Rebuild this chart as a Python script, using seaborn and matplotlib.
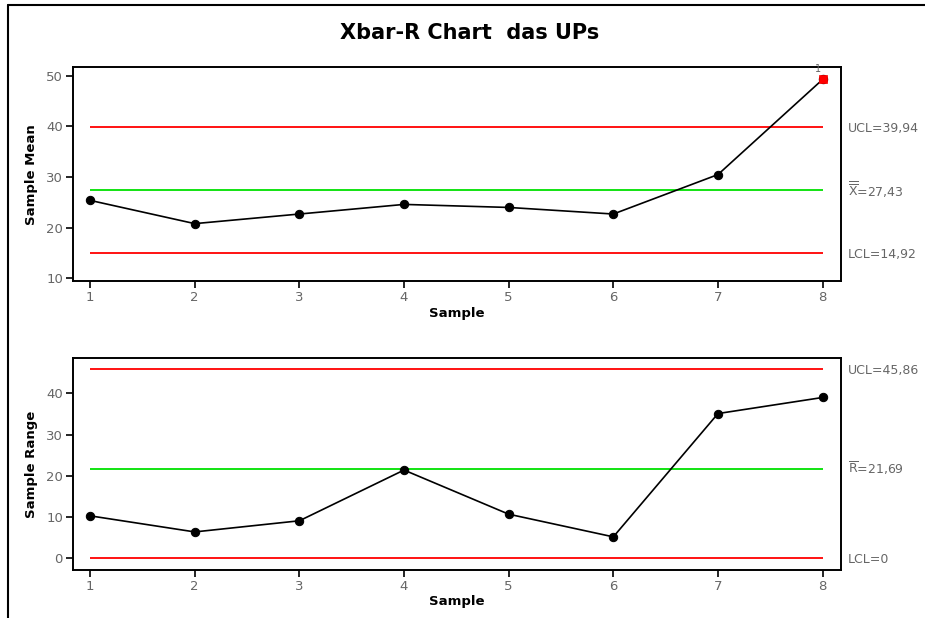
import numpy as np
import pandas as pd
import seaborn as sns
import matplotlib
matplotlib.use("Agg")
from matplotlib import pyplot as plt
from matplotlib.lines import Line2D

# data
samples = [1, 2, 3, 4, 5, 6, 7, 8]
sample_mean = [25.4, 20.8, 22.7, 24.6, 24.0, 22.7, 30.5, 49.3]
sample_range = [10.3, 6.4, 9.1, 21.4, 10.7, 5.2, 35.1, 39.0]
xbar_limits = {"UCL": 39.94, "CL": 27.43, "LCL": 14.92}
r_limits = {"UCL": 45.86, "CL": 21.69, "LCL": 0.0}
xbar_labels = ["UCL=39,94", r"$\overline{\overline{\mathrm{X}}}$=27,43", "LCL=14,92"]
r_labels = ["UCL=45,86", r"$\overline{\mathrm{R}}$=21,69", "LCL=0"]
out_of_control = [8]

sns.set_theme(style="ticks")
plt.rcParams["font.family"] = ["DejaVu Sans"]
plt.rcParams["text.color"] = "black"
plt.rcParams["axes.labelcolor"] = "black"

GREY = "#666666"

fig = plt.figure(figsize=(9.25, 6.18), dpi=100)
ax1 = fig.add_axes([0.0786, 0.5448, 0.8303, 0.3463])
ax2 = fig.add_axes([0.0786, 0.0777, 0.8303, 0.3430])

# frame around the figure (top and left edges only visible)
fig.add_artist(Line2D([0.0086, 0.0086], [0.0, 0.992], transform=fig.transFigure, color="black", lw=1.5))
fig.add_artist(Line2D([0.0086, 1.0], [0.992, 0.992], transform=fig.transFigure, color="black", lw=1.5))

fig.text(0.508, 0.946, "Xbar-R Chart  das UPs", ha="center", va="center",
         fontsize=15, fontweight="bold", color="black")


def control_panel(ax, values, limits, labels, ylabel):
    df = pd.DataFrame({"Sample": samples, "Value": values})
    for key, col in [("UCL", "#ff0000"), ("CL", "#00e000"), ("LCL", "#ff0000")]:
        ax.hlines(limits[key], samples[0], samples[-1], color=col, lw=1.3, zorder=1)
    sns.lineplot(data=df, x="Sample", y="Value", ax=ax, color="black", lw=1.2,
                 marker="o", markersize=6, markeredgecolor="black", zorder=3)
    for lab, key in zip(labels, ["UCL", "CL", "LCL"]):
        va = "center" if lab.startswith("$") else "center_baseline"
        ax.text(1.0095, limits[key], lab, transform=ax.get_yaxis_transform(),
                ha="left", va=va, fontsize=9, color=GREY)
    ax.set_xticks(samples)
    ax.set_xlabel("Sample", fontsize=9.5, fontweight="bold", labelpad=2)
    ax.set_ylabel(ylabel, fontsize=9.5, fontweight="bold", labelpad=6)
    ax.tick_params(axis="both", direction="out", length=5, width=1.2,
                   labelsize=9.5, labelcolor=GREY, color="black", pad=2)
    for s in ax.spines.values():
        s.set_visible(True)
        s.set_color("black")
        s.set_linewidth(1.4)


control_panel(ax1, sample_mean, xbar_limits, xbar_labels, "Sample Mean")
control_panel(ax2, sample_range, r_limits, r_labels, "Sample Range")

# flag the out-of-control points on the mean chart
ooc = pd.DataFrame({"Sample": out_of_control,
                    "Value": [sample_mean[samples.index(s)] for s in out_of_control]})
sns.scatterplot(data=ooc, x="Sample", y="Value", ax=ax1, marker="s", s=40,
                color="#ff0000", edgecolor="#ff0000", zorder=4)
for s, v in zip(ooc["Sample"], ooc["Value"]):
    ax1.text(s - 0.04, v + 1.0, "1", ha="center", va="bottom", fontsize=7, color=GREY)

ax1.set_xlim(0.834, 8.173)
ax1.set_ylim(9.4, 51.7)
ax1.set_yticks([10, 20, 30, 40, 50])
ax2.set_xlim(0.834, 8.173)
ax2.set_ylim(-2.83, 48.57)
ax2.set_yticks([0, 10, 20, 30, 40])

fig.savefig("out.png", dpi=100, facecolor="white")
